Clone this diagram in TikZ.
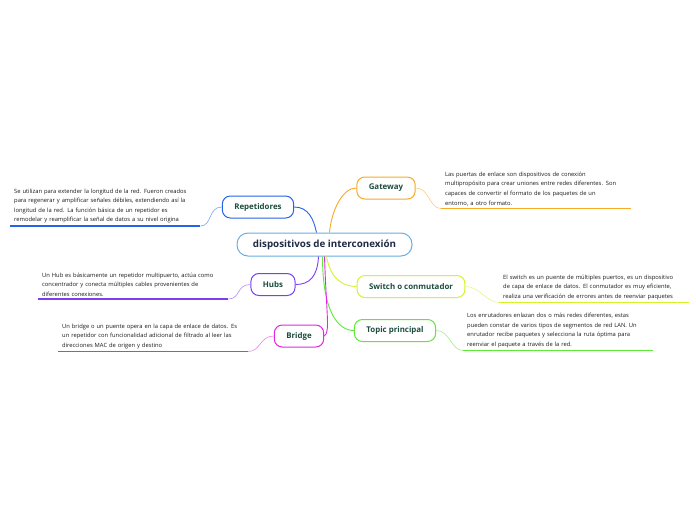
\documentclass[tikz,border=0pt]{standalone}
\usepackage{fontspec}
\setmainfont{Open Sans}
\usetikzlibrary{positioning}

\definecolor{rootline}{HTML}{6AAEE0}
\definecolor{roottext}{HTML}{1F2A44}
\definecolor{topictext}{HTML}{1B4D3E}
\definecolor{repblue}{HTML}{2563EB}
\definecolor{gworange}{HTML}{F7A928}
\definecolor{hubpurple}{HTML}{7B3FF0}
\definecolor{swyellow}{HTML}{D6F22A}
\definecolor{tpgreen}{HTML}{5DE83A}
\definecolor{brmagenta}{HTML}{E626E6}

\tikzset{
  root/.style={draw=rootline, line width=1pt, fill=white, rounded corners=11pt,
    minimum width=175pt, minimum height=23pt, text=roottext,
    font=\fontsize{9.8}{11}\selectfont\bfseries},
  topic/.style={draw=#1, line width=1pt, fill=white, rounded corners=8pt,
    minimum height=22pt, inner xsep=12pt, text=topictext,
    font=\fontsize{7.9}{9}\selectfont\bfseries},
  note/.style={anchor=south west, align=left, text width=182pt, inner xsep=4pt,
    inner ysep=2.5pt, text=black!90, font=\fontsize{5.8}{9.6}\selectfont},
  uline/.style={draw=#1, line width=1.2pt},
  link/.style={draw=#1, line width=0.9pt},
  twig/.style={draw=#1!60, line width=0.6pt},
}

\begin{document}
\begin{tikzpicture}[x=1pt, y=-1pt]
  \useasboundingbox (0,0) rectangle (696,520);

  % Central topic
  \node[root] (root) at (324.5,244.5) {dispositivos de interconexión};

  % Main topics
  \node[topic=repblue] (rep) at (258,207) {Repetidores};
  \node[topic=gworange] (gw) at (386,188) {Gateway};
  \node[topic=hubpurple] (hub) at (273,284.5) {Hubs};
  \node[topic=swyellow] (sw) at (411,286.5) {Switch o conmutador};
  \node[topic=tpgreen] (tp) at (395,330.5) {Topic principal};
  \node[topic=brmagenta] (br) at (299,336) {Bridge};

  % Notes
  \node[note] (reptxt) at (10,226) {Se utilizan para extender la longitud de la red. Fueron creados\\
    para regenerar y amplificar señales débiles, extendiendo así la\\
    longitud de la red. La función básica de un repetidor es\\
    remodelar y reamplificar la señal de datos a su nivel origina};
  \node[note] (gwtxt) at (441,208.5) {Las puertas de enlace son dispositivos de conexión\\
    multipropósito para crear uniones entre redes diferentes. Son\\
    capaces de convertir el formato de los paquetes de un\\
    entorno, a otro formato.};
  \node[note] (hubtxt) at (38,299) {Un Hub es básicamente un repetidor multipuerto, actúa como\\
    concentrador y conecta múltiples cables provenientes de\\
    diferentes conexiones.};
  \node[note] (swtxt) at (499,302.5) {El switch es un puente de múltiples puertos, es un dispositivo\\
    de capa de enlace de datos. El conmutador es muy eficiente,\\
    realiza una verificación de errores antes de reenviar paquetes};
  \node[note] (tptxt) at (463,350.5) {Los enrutadores enlazan dos o más redes diferentes, estas\\
    pueden constar de varios tipos de segmentos de red LAN. Un\\
    enrutador recibe paquetes y selecciona la ruta óptima para\\
    reenviar el paquete a través de la red.};
  \node[note] (brtxt) at (58,351.5) {Un bridge o un puente opera en la capa de enlace de datos. Es\\
    un repetidor con funcionalidad adicional de filtrado al leer las\\
    direcciones MAC de origen y destino};

  % Underlines
  \draw[uline=repblue] (reptxt.south west) -- (reptxt.south east);
  \draw[uline=gworange] (gwtxt.south west) -- (gwtxt.south east);
  \draw[uline=hubpurple] (hubtxt.south west) -- (hubtxt.south east);
  \draw[uline=swyellow] (swtxt.south west) -- (swtxt.south east);
  \draw[uline=tpgreen] (tptxt.south west) -- (tptxt.south east);
  \draw[uline=brmagenta] (brtxt.south west) -- (brtxt.south east);

  % Branches from the centre
  \draw[link=repblue] (rep.east) .. controls +(14,0) and +(-3,-14) .. ([xshift=-8pt]root.north);
  \draw[link=gworange] ([xshift=5pt]root.north) .. controls +(2,-22) and +(-14,0) .. (gw.west);
  \draw[link=hubpurple] ([xshift=-6pt]root.south) .. controls +(-1,20) and +(14,0) .. (hub.east);
  \draw[link=swyellow] ([xshift=2pt]root.south) .. controls +(4,22) and +(-14,0) .. (sw.west);
  \draw[link=tpgreen] ([xshift=-2pt]root.south) .. controls +(0,55) and +(-16,0) .. (tp.west);
  \draw[link=brmagenta] (root.south) .. controls +(2,60) and +(6,-4) .. (br.east);

  % Twigs to the notes
  \draw[twig=repblue] (rep.west) .. controls +(-14,0) and +(12,0) .. (reptxt.south east);
  \draw[twig=gworange] (gw.east) .. controls +(14,0) and +(-12,0) .. (gwtxt.south west);
  \draw[twig=hubpurple] (hub.west) .. controls +(-14,0) and +(12,0) .. (hubtxt.south east);
  \draw[twig=swyellow] (sw.east) .. controls +(14,0) and +(-12,0) .. (swtxt.south west);
  \draw[twig=tpgreen] (tp.east) .. controls +(14,0) and +(-12,0) .. (tptxt.south west);
  \draw[twig=brmagenta] (br.west) .. controls +(-14,0) and +(12,0) .. (brtxt.south east);

\end{tikzpicture}
\end{document}
